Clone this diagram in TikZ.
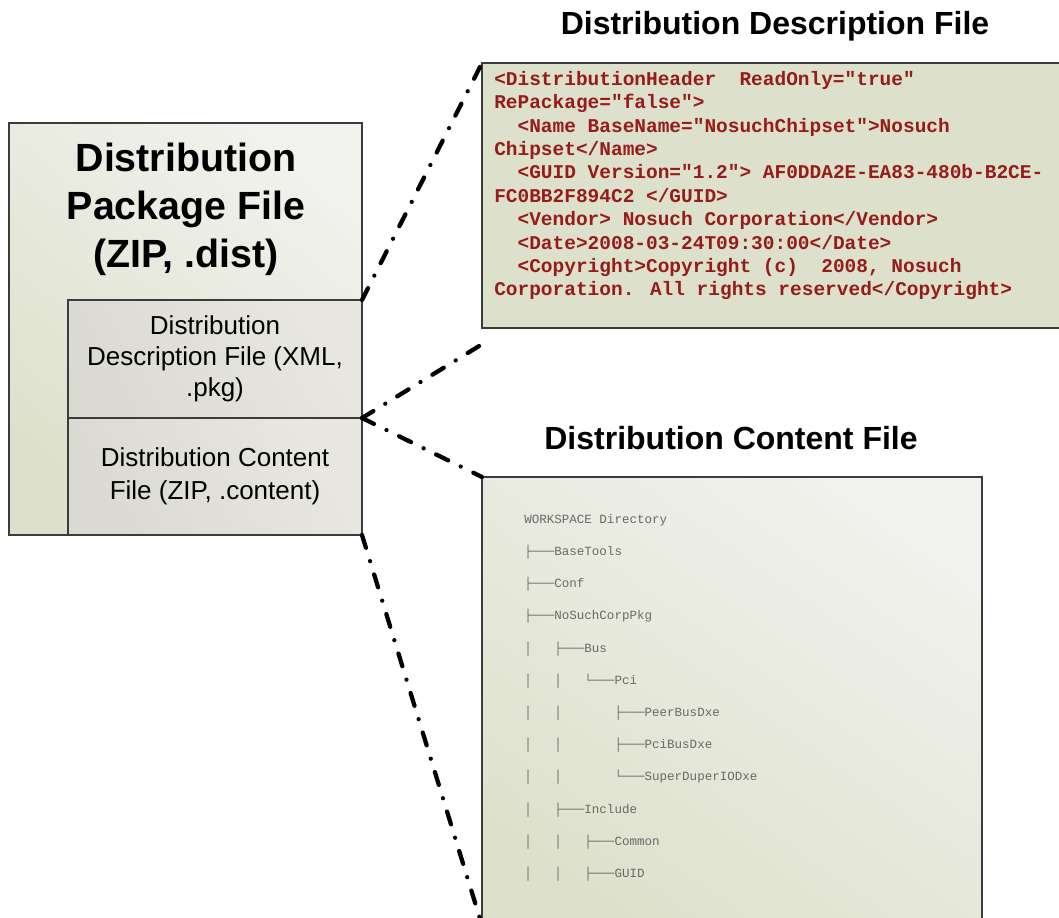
\documentclass[tikz,border=0pt]{standalone}
\usepackage{fontspec}
\setmainfont{Liberation Sans}
\newfontfamily\monofam{Liberation Mono}
\usetikzlibrary{shadings}
\definecolor{xmlred}{RGB}{150,28,28}
\definecolor{treegray}{RGB}{105,105,105}
\definecolor{boxgreen}{RGB}{221,225,203}
\definecolor{boxlight}{RGB}{241,241,237}
\definecolor{innergray}{RGB}{218,218,210}
\definecolor{innerlight}{RGB}{232,232,224}
\definecolor{edge}{RGB}{60,60,60}
\newcommand\ind[1]{\phantom{#1}}
\begin{document}
\begin{tikzpicture}[x=0.75pt,y=-0.75pt,
  panel/.style={draw=edge, line width=0.8pt, inner sep=0pt, outer sep=0pt, anchor=north west},
  greenpanel/.style={panel, bottom color=boxgreen, top color=boxlight, shading angle=-40},
  graypanel/.style={panel, bottom color=innergray, top color=innerlight, shading angle=-60, align=center},
  conn/.style={line width=3.2pt, line cap=round, dash pattern=on 10pt off 10.5pt on 0pt off 10.5pt},
  title/.style={font=\bfseries\fontsize{24}{28}\selectfont, inner sep=0pt}]
\useasboundingbox (0,0) rectangle (1059,917);
\clip (0,0) rectangle (1059,917);

% left package box
\node[greenpanel, minimum width=264.75pt, minimum height=309pt] (pkg) at (9,123) {};
\node[inner sep=0pt, align=center, font=\bfseries\fontsize{29.5}{36}\selectfont] (pkgtxt) at (186,209)
  {Distribution\\Package File\\(ZIP, .dist)};
\node[graypanel, minimum width=220.5pt, minimum height=88.5pt, font=\fontsize{19.5}{23.3}\selectfont] (ddf) at (68,300)
  {Distribution\\Description File (XML,\\.pkg)};
\node[graypanel, minimum width=220.5pt, minimum height=87.75pt, font=\fontsize{19.5}{24.5}\selectfont] (dcf) at (68,418)
  {Distribution Content\\File (ZIP, .content)};

% right boxes
\node[panel, fill=boxgreen, minimum width=437.25pt, minimum height=198.75pt] (xml) at (482,63) {};
\node[panel, bottom color=boxgreen, top color=boxlight, shading angle=-35, minimum width=375pt, minimum height=345pt] (cnt) at (482,477) {};

% titles
\node[title] (t1) at (775,26) {Distribution Description File};
\node[title] (t2) at (731,438) {Distribution Content File};

% XML text
\node[anchor=north west, inner sep=0pt, align=left, text=xmlred,
      font=\monofam\bfseries\fontsize{14.6}{17.55}\selectfont] (xmltxt) at (494,71)
{<DistributionHeader\ind{x} ReadOnly="true"\\
RePackage="false">\\
\ind{xx}<Name BaseName="NosuchChipset">Nosuch\\
Chipset</Name>\\
\ind{xx}<GUID Version="1.2"> AF0DDA2E-EA83-480b-B2CE-\\
FC0BB2F894C2 </GUID>\\
\ind{xx}<Vendor> Nosuch Corporation</Vendor>\\
\ind{xx}<Date>2008-03-24T09:30:00</Date>\\
\ind{xx}<Copyright>Copyright (c)\ind{x} 2008, Nosuch\\
Corporation. All rights reserved</Copyright>};

% directory tree
\node[anchor=north west, inner sep=0pt, align=left, text=treegray,
      font=\monofam\fontsize{9.4}{24.15}\selectfont] (tree) at (524,514)
{WORKSPACE Directory\\
├───BaseTools\\
├───Conf\\
├───NoSuchCorpPkg\\
│\ind{xxx}├───Bus\\
│\ind{xxx}│\ind{xxx}└───Pci\\
│\ind{xxx}│\ind{xxxxxxx}├───PeerBusDxe\\
│\ind{xxx}│\ind{xxxxxxx}├───PciBusDxe\\
│\ind{xxx}│\ind{xxxxxxx}└───SuperDuperIODxe\\
│\ind{xxx}├───Include\\
│\ind{xxx}│\ind{xxx}├───Common\\
│\ind{xxx}│\ind{xxx}├───GUID};

% connectors
\coordinate (e2) at (484,343);
\coordinate (e4) at (481,922);
\draw[conn] (ddf.north east) -- (xml.north west);
\draw[conn] (ddf.south east) -- (e2);
\draw[conn] (ddf.south east) -- (cnt.north west);
\draw[conn] (dcf.south east) -- (e4);
\end{tikzpicture}
\end{document}
